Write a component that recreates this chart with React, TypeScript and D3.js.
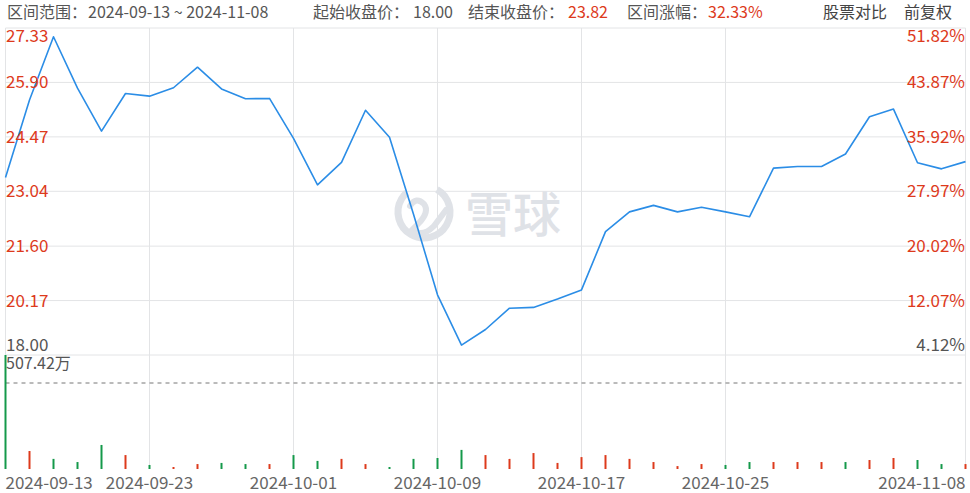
import React from "react";
import * as d3 from "d3";

const dates = [
  "2024-09-13","2024-09-16","2024-09-17","2024-09-18","2024-09-19","2024-09-20",
  "2024-09-23","2024-09-24","2024-09-25","2024-09-26","2024-09-27","2024-09-30",
  "2024-10-01","2024-10-02","2024-10-03","2024-10-04",
  "2024-10-07","2024-10-08","2024-10-09","2024-10-10","2024-10-11",
  "2024-10-14","2024-10-15","2024-10-16","2024-10-17","2024-10-18",
  "2024-10-21","2024-10-22","2024-10-23","2024-10-24","2024-10-25",
  "2024-10-28","2024-10-29","2024-10-30","2024-10-31","2024-11-01",
  "2024-11-04","2024-11-05","2024-11-06","2024-11-07","2024-11-08",
];

const prices = [
  23.40, 25.44, 27.10, 25.75, 24.62, 25.61, 25.54, 25.76, 26.30, 25.73,
  25.47, 25.48, 24.43, 23.21, 23.80, 25.17, 24.46, 22.44, 20.32, 19.00,
  19.41, 19.97, 19.99, 20.21, 20.45, 21.98, 22.50, 22.67, 22.50, 22.62,
  22.50, 22.37, 23.65, 23.69, 23.69, 24.02, 25.00, 25.20, 23.79, 23.63,
  23.82,
];

// volume in 万
const volumes = [
  507.42, 80, 45, 31, 107, 62, 18, 9, 22, 27,
  22, 22, 62, 36, 45, 22, 9, 45, 49, 85,
  62, 45, 71, 27, 53, 62, 45, 31, 13, 22,
  18, 31, 31, 31, 31, 31, 40, 49, 40, 22,
  22,
];

// u = up (red), d = down (green)
const volumeDir = [
  "d","u","d","d","d","u","d","u","u","d",
  "d","u","d","d","u","u","d","d","d","d",
  "u","u","u","u","u","u","u","u","u","u",
  "d","d","u","u","u","d","u","u","d","d",
  "u",
];

const priceTickValues = [27.33, 25.9, 24.47, 23.04, 21.6, 20.17, 18.74];
const priceTickLabels = ["27.33", "25.90", "24.47", "23.04", "21.60", "20.17", "18.00"];
const pctTickLabels = ["51.82%", "43.87%", "35.92%", "27.97%", "20.02%", "12.07%", "4.12%"];

const xLabelDates = ["2024-09-13", "2024-09-23", "2024-10-01", "2024-10-09", "2024-10-17", "2024-10-25", "2024-11-08"];

const maxVolumeLabel = "507.42万";

const W = 970;
const H = 493;
const RED = "#dd3a1c";
const GREEN = "#14994a";
const GRAY = "#555";
const GRID = "#e3e4e6";
const FONT = "'Noto Sans CJK SC', 'Noto Sans', sans-serif";

export default function App() {
  const x = d3.scalePoint<string>().domain(dates).range([5.5, 965.5]);
  const y = d3.scaleLinear().domain([18.74, 27.33]).range([355, 28]);
  const vy = d3.scaleLinear().domain([0, 507.42]).range([469, 355]);

  const line = d3
    .line<number>()
    .x((_, i) => x(dates[i]) as number)
    .y((d) => y(d));

  const left = x(dates[0]) as number;
  const right = x(dates[dates.length - 1]) as number;
  const n = priceTickValues.length;

  const labelBaseline = (i: number) => {
    const gy = y(priceTickValues[i]);
    if (i === 0) return gy + 14;
    if (i === n - 1) return gy - 4;
    return gy + 6;
  };

  return (
    <div style={{ position: "fixed", left: 0, top: 0, width: W, height: H, background: "#fff" }}>
      <svg width={W} height={H} style={{ display: "block", fontFamily: FONT }}>
        {/* header */}
        <g fontSize={16} fill={GRAY}>
          <text x={7} y={18}>区间范围：</text>
          <text x={88} y={18}>2024-09-13 ~ 2024-11-08</text>
          <text x={313} y={18}>起始收盘价：</text>
          <text x={413} y={18}>18.00</text>
          <text x={468} y={18}>结束收盘价：</text>
          <text x={568} y={18} fill={RED}>23.82</text>
          <text x={627} y={18}>区间涨幅：</text>
          <text x={708} y={18} fill={RED}>32.33%</text>
          <text x={823} y={18} fill="#444">股票对比</text>
          <text x={904} y={18} fill="#444">前复权</text>
        </g>

        {/* horizontal grid */}
        {priceTickValues.map((v, i) => (
          <line key={"h" + i} x1={left} x2={right} y1={y(v)} y2={y(v)} stroke={GRID} strokeWidth={1} />
        ))}
        {/* vertical grid */}
        {xLabelDates.map((d, i) => (
          <line key={"v" + i} x1={x(d)} x2={x(d)} y1={y(priceTickValues[0])} y2={vy(0)} stroke={GRID} strokeWidth={1} />
        ))}

        {/* watermark */}
        <g>
          <circle cx={424} cy={212} r={26} fill="none" stroke="#dfe2e7" strokeWidth={7} strokeDasharray="130 33" transform="rotate(-60 424 212)" />
          <path d="M410 206 q6 -10 14 -2 q6 8 -6 20 l-6 6 q10 8 22 -4 l12 -16" fill="none" stroke="#dfe2e7" strokeWidth={6} strokeLinecap="round" />
          <text x={465} y={232} fontSize={48} fill="#dfe2e7" fontWeight={500}>雪球</text>
        </g>

        {/* price line */}
        <path d={line(prices) || ""} fill="none" stroke="#2b8de6" strokeWidth={1.6} strokeLinejoin="round" />

        {/* left axis labels */}
        {priceTickLabels.map((t, i) => (
          <text key={"l" + i} x={6} y={labelBaseline(i)} fontSize={17} fill={i === n - 1 ? GRAY : RED}>
            {t}
          </text>
        ))}
        {/* right axis labels */}
        {pctTickLabels.map((t, i) => (
          <text key={"r" + i} x={965} y={labelBaseline(i)} fontSize={17} textAnchor="end" fill={i === n - 1 ? GRAY : RED}>
            {t}
          </text>
        ))}

        {/* volume */}
        <line x1={left} x2={right} y1={383} y2={383} stroke="#777" strokeWidth={1} strokeDasharray="4 4" />
        <text x={6} y={369} fontSize={16} fill={GRAY}>{maxVolumeLabel}</text>
        {volumes.map((v, i) => (
          <line
            key={"b" + i}
            x1={x(dates[i])}
            x2={x(dates[i])}
            y1={vy(0)}
            y2={vy(v)}
            stroke={volumeDir[i] === "u" ? RED : GREEN}
            strokeWidth={2}
          />
        ))}

        {/* x labels */}
        {xLabelDates.map((d, i) => (
          <text
            key={"x" + i}
            x={x(d)}
            y={489}
            fontSize={17}
            fill="#666"
            textAnchor={i === 0 ? "start" : i === xLabelDates.length - 1 ? "end" : "middle"}
          >
            {d}
          </text>
        ))}
      </svg>
    </div>
  );
}
